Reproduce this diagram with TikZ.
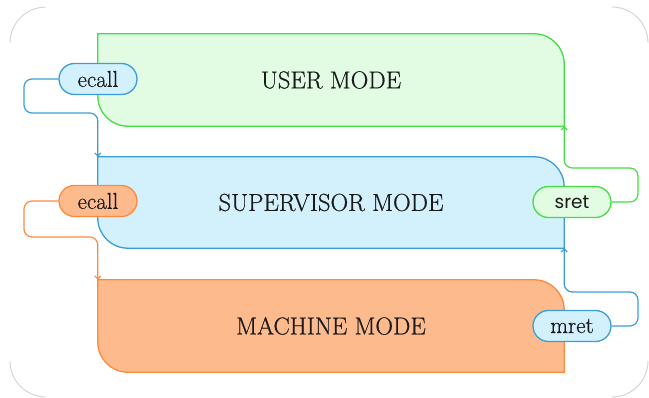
\documentclass[tikz,border=0pt]{standalone}
\usepackage{fontspec}
\newfontfamily\pillsans{Poppins}
\newfontfamily\labelserif{Latin Modern Roman}[FakeBold=0.6]
\usetikzlibrary{arrows.meta}
\definecolor{grline}{HTML}{44DD44}
\definecolor{grfill}{HTML}{E1FCE3}
\definecolor{blline}{HTML}{3C9CD8}
\definecolor{blfill}{HTML}{D3F0FD}
\definecolor{orline}{HTML}{FF8A3D}
\definecolor{orfill}{HTML}{FDBA8C}
\definecolor{ink}{HTML}{1A1A1A}
\tikzset{
  modebox/.style={rectangle, draw=none, minimum width=466pt, minimum height=#1, inner sep=0pt,
    font=\labelserif\fontsize{24.5}{28}\selectfont, text=ink},
  pill/.style={rectangle, rounded corners=15.5pt, minimum width=78pt, minimum height=31pt,
    inner sep=0pt, line width=1.3pt, font=\labelserif\fontsize{23}{26}\selectfont, text=ink},
  link/.style={line width=1.2pt, rounded corners=8pt, -{Straight Barb[length=3pt,width=6pt]}},
  frame/.style={draw=gray!35, line width=0.9pt}
}
% box with rounded top-right and bottom-left corners
\newcommand\modeshape[3]{%
  \draw[line width=1.3pt, draw=#2, fill=#3]
    (#1.north west) -- ([xshift=-30pt]#1.north east)
    arc[start angle=90, end angle=0, radius=30pt]
    -- (#1.south east) -- ([xshift=30pt]#1.south west)
    arc[start angle=270, end angle=180, radius=30pt] -- cycle;}
\begin{document}
\begin{tikzpicture}[x=1pt, y=1pt]
\useasboundingbox (0,0) rectangle (649,398);

% outer frame corners
\draw[frame] (10,355) arc[start angle=180, end angle=90, radius=36];
\draw[frame] (612,391) arc[start angle=90, end angle=0, radius=36];
\draw[frame] (648,37) arc[start angle=0, end angle=-90, radius=36];
\draw[frame] (46,1) arc[start angle=270, end angle=180, radius=36];

% mode boxes
\node[modebox=92pt] (user) at (331,318) {};
\node[modebox=91pt] (sup) at (331,195.5) {};
\node[modebox=92pt] (mach) at (331,72) {};
\modeshape{user}{grline}{grfill}
\modeshape{sup}{blline}{blfill}
\modeshape{mach}{orline}{orfill}
\node[modebox=92pt] at (user) {USER MODE};
\node[modebox=91pt] at (sup) {SUPERVISOR MODE};
\node[modebox=92pt] at (mach) {MACHINE MODE};

% trap / return labels
\node[pill, draw=blline, fill=blfill] (ecallu) at (98,319) {ecall};
\node[pill, draw=orline, fill=orfill] (ecalls) at (98,197) {ecall};
\node[pill, draw=grline, fill=grfill, font=\pillsans\fontsize{18.5}{22}\selectfont] (sret) at (572,196) {sret};
\node[pill, draw=blline, fill=blfill] (mret) at (572,72) {mret};

% transitions
\draw[link, blline] (ecallu.west) -| (24,285) -| (sup.north west);
\draw[link, orline] (ecalls.west) -| (24,161) -| (mach.north west);
\draw[link, grline] (sret.east) -| (638,230) -| (user.south east);
\draw[link, blline] (mret.east) -| (638,106) -| (sup.south east);
\end{tikzpicture}
\end{document}
